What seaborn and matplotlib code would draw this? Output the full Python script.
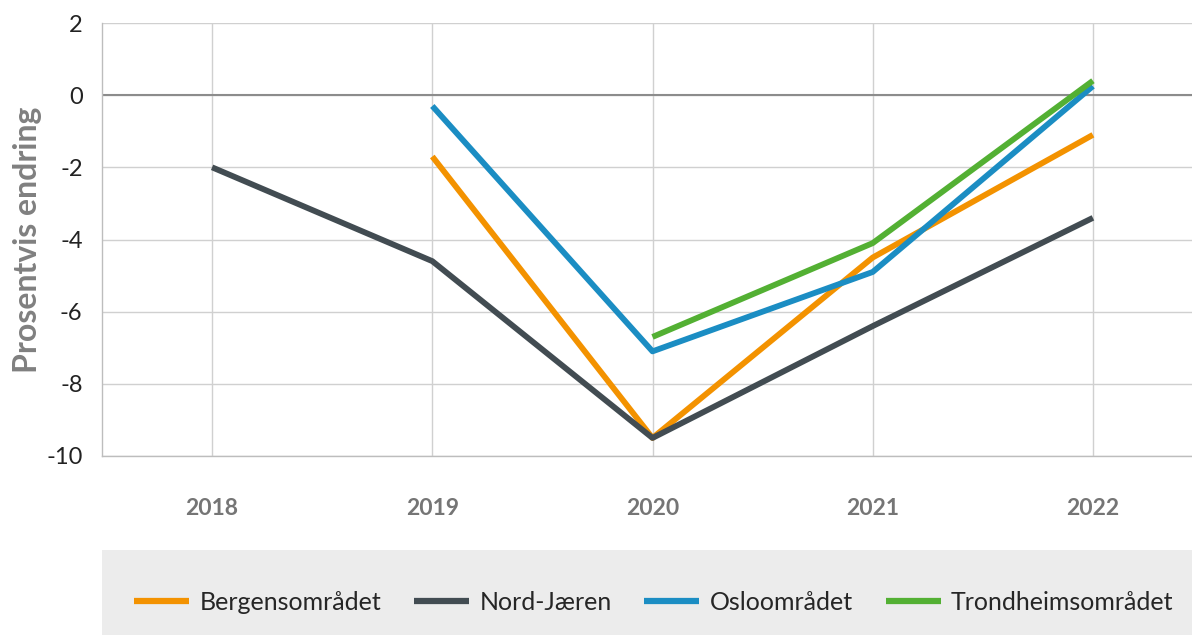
import matplotlib
matplotlib.use("Agg")
import matplotlib.pyplot as plt
import seaborn as sns
import pandas as pd
from matplotlib.patches import Rectangle

sns.set_theme()
sns.set_style("white")
plt.rcParams['font.family'] = ['Lato', 'DejaVu Sans']
plt.rcParams['axes.unicode_minus'] = False

# Data
years = ["2018", "2019", "2020", "2021", "2022"]
bergen = [None, -1.7, -9.5, -4.5, -1.1]
nord_jaeren = [-2.0, -4.6, -9.5, -6.4, -3.4]
oslo = [None, -0.3, -7.1, -4.9, 0.25]
trondheim = [None, None, -6.7, -4.1, 0.4]

series_names = ["Bergensområdet", "Nord-Jæren", "Osloområdet", "Trondheimsområdet"]
colors = ["#f39200", "#424c52", "#1b8dc3", "#53b033"]

rows = []
for name, vals in zip(series_names, [bergen, nord_jaeren, oslo, trondheim]):
    for yr, v in zip(years, vals):
        if v is not None:
            rows.append({"year": yr, "value": v, "series": name})
df = pd.DataFrame(rows)

fig = plt.figure(figsize=(11.92, 6.35), dpi=100)
ax = fig.add_axes([102 / 1192, 1 - 456 / 635, 1 - 102 / 1192, 433 / 635])

# categorical x positions
df["x"] = df["year"].map({y: i for i, y in enumerate(years)})
sns.lineplot(data=df, x="x", y="value", hue="series", hue_order=series_names,
             palette=colors, linewidth=4.2, ax=ax, legend=True,
             solid_capstyle="butt")

ax.set_xlim(-0.5, 4.45)
ax.set_ylim(-10, 2)
ax.set_yticks(range(-10, 3, 2))
ax.set_xticks(range(len(years)))
ax.set_xticklabels(years)

ax.grid(True, color="#d0d0d0", linewidth=1)
ax.axhline(0, color="#8c8c8c", linewidth=1.5, zorder=1)
ax.set_axisbelow(True)
for s in ["top", "right"]:
    ax.spines[s].set_visible(False)
for s in ["left", "bottom"]:
    ax.spines[s].set_color("#bdbdbd")
    ax.spines[s].set_linewidth(1)

ax.tick_params(axis="y", labelsize=17, colors="#222222", length=0, pad=14)
ax.tick_params(axis="x", labelsize=16.5, colors="#757575", length=0, pad=30)
for lbl in ax.get_xticklabels():
    lbl.set_fontweight("bold")

ax.set_xlabel("")
ax.set_ylabel("Prosentvis endring", fontsize=23, fontweight="bold", color="#808080")
ax.yaxis.set_label_coords(-0.055, 0.5)

# Legend below in a grey band
handles, labels = ax.get_legend_handles_labels()
ax.get_legend().remove()
fig.patches.append(Rectangle((102 / 1192, 0), 1 - 102 / 1192, 85 / 635,
                             transform=fig.transFigure, facecolor="#ececec",
                             edgecolor="none", zorder=0))
leg = fig.legend(handles, labels, loc="center", bbox_to_anchor=(654 / 1192, 1 - 602 / 635),
                 ncol=4, frameon=False, fontsize=18, handlelength=2.2,
                 handletextpad=0.42, columnspacing=1.3)
for line in leg.get_lines():
    line.set_linewidth(4.5)
    line.set_solid_capstyle("butt")

fig.savefig("out.png", dpi=100)
